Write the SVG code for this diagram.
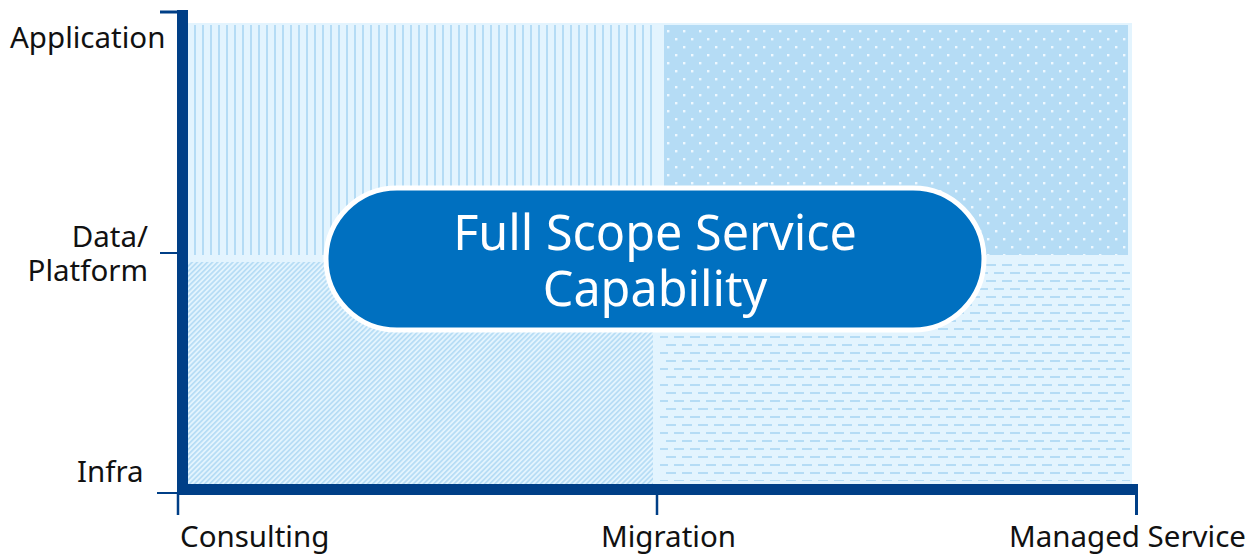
<svg xmlns="http://www.w3.org/2000/svg" width="1249" height="554" viewBox="0 0 1249 554">
  <style>
    .lbl { font-family: "Noto Sans", "Open Sans", "Liberation Sans", sans-serif; font-size: 29.5px; fill: #111111; }
    .cap { font-family: "Noto Sans", "Open Sans", "Liberation Sans", sans-serif; font-size: 48.5px; fill: #ffffff; text-anchor: middle; }
    .axis { stroke: #003F87; fill: none; }
  </style>
  <defs>
    <pattern id="vstripes" patternUnits="userSpaceOnUse" x="194" y="0" width="8" height="8">
      <rect width="8" height="8" fill="#E3F4FE"/>
      <rect x="0" y="0" width="2" height="8" fill="#B5DCF5"/>
    </pattern>
    <pattern id="dots" patternUnits="userSpaceOnUse" x="664" y="25" width="16" height="16">
      <rect width="16" height="16" fill="#B5DCF5"/>
      <rect x="3" y="5" width="2.4" height="2.4" fill="#EEF8FF"/>
      <rect x="11" y="13" width="2.4" height="2.4" fill="#EEF8FF"/>
    </pattern>
    <pattern id="hatch" patternUnits="userSpaceOnUse" width="3.6" height="8" patternTransform="rotate(45)">
      <rect width="3.6" height="8" fill="#E3F4FE"/>
      <rect x="0" y="0" width="1.7" height="8" fill="#B5DCF5"/>
    </pattern>
    <pattern id="dashes" patternUnits="userSpaceOnUse" x="666" y="344" width="16" height="16">
      <rect width="16" height="16" fill="#E3F4FE"/>
      <rect x="0" y="0" width="10" height="2" fill="#B5DCF5"/>
      <rect x="8" y="8" width="8" height="2" fill="#B5DCF5"/>
      <rect x="0" y="8" width="2" height="2" fill="#B5DCF5"/>
    </pattern>
  </defs>

  <rect id="background" x="186" y="23" width="946" height="462" fill="#E3F4FE"/>

  <g id="quad-app-consulting">
    <rect x="190" y="25" width="466" height="230" fill="url(#vstripes)"/>
  </g>
  <g id="quad-app-managed">
    <rect x="664" y="25" width="464" height="230" fill="url(#dots)"/>
  </g>
  <g id="quad-infra-consulting">
    <rect x="188" y="262" width="465" height="222" fill="url(#hatch)"/>
  </g>
  <g id="quad-infra-managed">
    <rect x="660" y="263" width="470" height="218" fill="url(#dashes)"/>
  </g>

  <g id="connectors">
    <line class="axis" x1="182.5" y1="10" x2="182.5" y2="495" stroke-width="11"/>
    <line class="axis" x1="177" y1="489.5" x2="1138" y2="489.5" stroke-width="11"/>
    <line class="axis" x1="160" y1="12" x2="188" y2="12" stroke-width="3"/>
    <line class="axis" x1="160" y1="253" x2="178" y2="253" stroke-width="2"/>
    <line class="axis" x1="157" y1="493" x2="178" y2="493" stroke-width="2"/>
    <line class="axis" x1="178" y1="494" x2="178" y2="515" stroke-width="2.5"/>
    <line class="axis" x1="657" y1="494" x2="657" y2="515" stroke-width="2.5"/>
    <line class="axis" x1="1136.5" y1="484" x2="1136.5" y2="515" stroke-width="3"/>
  </g>

  <g id="y-label-application"><text class="lbl" x="10" y="48">Application</text></g>
  <g id="y-label-data-platform">
    <text class="lbl" x="148" y="247" text-anchor="end">Data/</text>
    <text class="lbl" x="148" y="281" text-anchor="end">Platform</text>
  </g>
  <g id="y-label-infra"><text class="lbl" x="77" y="482">Infra</text></g>
  <g id="x-label-consulting"><text class="lbl" x="180" y="547">Consulting</text></g>
  <g id="x-label-migration"><text class="lbl" x="601" y="547">Migration</text></g>
  <g id="x-label-managed"><text class="lbl" x="1246" y="547" text-anchor="end">Managed Service</text></g>

  <g id="capsule">
    <rect x="326" y="188" width="658" height="142" rx="71" ry="71" fill="#0070C0" stroke="#ffffff" stroke-width="5"/>
    <text class="cap" x="655" y="250">Full Scope Service</text>
    <text class="cap" x="655" y="306">Capability</text>
  </g>
</svg>
